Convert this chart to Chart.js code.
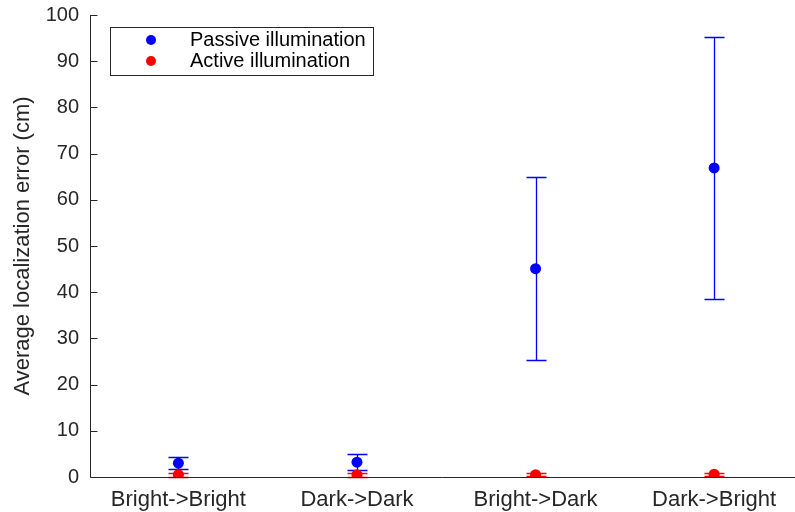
<!DOCTYPE html>
<html>
<head>
<meta charset="utf-8">
<script src="https://cdn.jsdelivr.net/npm/chart.js@4.4.0/dist/chart.umd.min.js"></script>
<style>
  html, body { margin: 0; padding: 0; background: #fff; overflow: hidden; }
</style>
</head>
<body>
<canvas id="errChart" width="795" height="512"></canvas>
<script>
// data
const categories = ['Bright->Bright', 'Dark->Dark', 'Bright->Dark', 'Dark->Bright'];
const passiveMean = [3.0, 3.2, 45.1, 66.9];
const passiveErr = [1.3, 1.7, 19.8, 28.3];
const activeMean = [0.5, 0.5, 0.5, 0.6];
const activeErr = [0.4, 0.4, 0.3, 0.3];
const yTicks = [0, 10, 20, 30, 40, 50, 60, 70, 80, 90, 100];

const axisColor = '#262626';
const font = 'Liberation Sans, Arial, Helvetica, sans-serif';
const seriesColors = ['#0000ff', '#ff0000'];

function toPoints(vals) {
    return vals.map((v, i) => ({ x: i + 1, y: v }));
}

// error bars + inward ticks + axis lines (MATLAB style)
const matlabPlugin = {
    id: 'matlab',
    beforeDatasetsDraw(chart) {
        const c = chart.ctx;
        const xs = chart.scales.x, ys = chart.scales.y;
        const errs = [passiveErr, activeErr];
        chart.data.datasets.forEach((ds, k) => {
            c.save();
            c.strokeStyle = seriesColors[k];
            c.lineWidth = 1.3;
            c.beginPath();
            ds.data.forEach((p, i) => {
                const px = Math.round(xs.getPixelForValue(p.x)) + 0.5;
                const top = Math.round(ys.getPixelForValue(p.y + errs[k][i])) + 0.5;
                const bot = Math.round(ys.getPixelForValue(p.y - errs[k][i])) + 0.5;
                c.moveTo(px, top); c.lineTo(px, bot);
                c.moveTo(px - 10, top); c.lineTo(px + 10, top);
                c.moveTo(px - 10, bot); c.lineTo(px + 10, bot);
            });
            c.stroke();
            c.restore();
        });
    },
    afterDraw(chart) {
        const c = chart.ctx;
        const a = chart.chartArea;
        const ys = chart.scales.y;
        c.save();
        c.strokeStyle = axisColor;
        c.lineWidth = 1;
        c.beginPath();
        const lx = Math.round(a.left) + 0.5, by = Math.round(a.bottom) + 0.5;
        c.moveTo(lx, a.top); c.lineTo(lx, by); c.lineTo(chart.width, by);
        yTicks.forEach(t => {
            const py = Math.round(ys.getPixelForValue(t)) + 0.5;
            c.moveTo(lx, py); c.lineTo(lx + 7, py);
        });
        c.stroke();

        // legend box
        const bx = 110.5, bty = 27.5, bw = 263, bh = 48;
        c.fillStyle = '#fff';
        c.fillRect(bx, bty, bw, bh);
        c.strokeRect(bx, bty, bw, bh);
        c.font = '20px ' + font;
        c.textBaseline = 'middle';
        c.textAlign = 'left';
        chart.data.datasets.forEach((ds, i) => {
            const cy = 40 + i * 21;
            c.fillStyle = seriesColors[i];
            c.beginPath();
            c.arc(151, cy, 5, 0, Math.PI * 2);
            c.fill();
            c.fillStyle = '#000';
            c.fillText(ds.label, 190, cy);
        });
        c.restore();
    }
};

const ctx = document.getElementById('errChart').getContext('2d');
const errChart = new Chart(ctx, {
    type: 'scatter',
    data: {
        datasets: [{
            label: 'Passive illumination',
            data: toPoints(passiveMean),
            backgroundColor: seriesColors[0],
            borderColor: seriesColors[0],
            pointRadius: 5.5,
            pointBorderWidth: 0
        }, {
            label: 'Active illumination',
            data: toPoints(activeMean),
            backgroundColor: seriesColors[1],
            borderColor: seriesColors[1],
            pointRadius: 5.5,
            pointBorderWidth: 0
        }]
    },
    options: {
        responsive: false,
        animation: false,
        layout: { padding: { top: 3, right: 0, left: 0, bottom: 0 } },
        plugins: {
            legend: { display: false },
            tooltip: { enabled: false }
        },
        scales: {
            x: {
                type: 'linear',
                min: 0.505,
                max: 4.422,
                afterBuildTicks: s => { s.ticks = categories.map((_, i) => ({ value: i + 1 })); },
                afterFit: s => { s.height = 35; },
                border: { display: false },
                grid: { display: false },
                ticks: {
                    callback: v => categories[v - 1],
                    color: axisColor,
                    font: { family: font, size: 22 },
                    padding: 2,
                    maxRotation: 0
                }
            },
            y: {
                min: 0,
                max: 100,
                afterBuildTicks: s => { s.ticks = yTicks.map(v => ({ value: v })); },
                afterFit: s => { s.width = 90; },
                border: { display: false },
                grid: { display: false },
                title: {
                    display: true,
                    text: 'Average localization error (cm)',
                    color: axisColor,
                    font: { family: font, size: 22 },
                    padding: { top: 10, bottom: 0 }
                },
                ticks: {
                    color: axisColor,
                    font: { family: font, size: 20 },
                    padding: 3
                }
            }
        }
    },
    plugins: [matlabPlugin]
});
</script>
</body>
</html>
